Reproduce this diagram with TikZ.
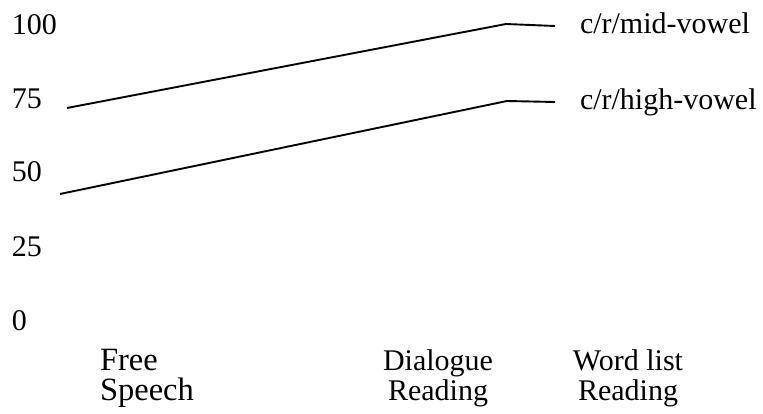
\documentclass[tikz,border=0pt]{standalone}
\usepackage{fontspec}
\setmainfont{Liberation Serif}
\begin{document}
\begin{tikzpicture}[x=1pt,y=-1pt,
  lbl/.style={font=\fontsize{30}{30}\selectfont, inner sep=0pt, outer sep=0pt},
  biglbl/.style={font=\fontsize{32.5}{32.5}\selectfont, inner sep=0pt, outer sep=0pt},
  series/.style={line width=1.9pt, line join=round}]
\useasboundingbox (0,0) rectangle (763,414);
% y axis labels
\node[lbl,anchor=base west] (y100) at (12,35) {100};
\node[lbl,anchor=base west] (y75) at (12,109) {75};
\node[lbl,anchor=base west] (y50) at (12,182) {50};
\node[lbl,anchor=base west] (y25) at (12,257) {25};
\node[lbl,anchor=base west] (y0) at (12,330) {0};
% x axis labels
\node[biglbl,anchor=base west] (free) at (100,370) {Free};
\node[biglbl,anchor=base west] (speech) at (100,400) {Speech};
\node[lbl,anchor=base] (dialogue) at (438,370) {Dialogue};
\node[lbl,anchor=base] (dread) at (438,400) {Reading};
\node[lbl,anchor=base] (wordlist) at (628,370) {Word list};
\node[lbl,anchor=base] (wread) at (628,400) {Reading};
% series
\coordinate (m1) at (67,108);
\coordinate (m2) at (506,24);
\coordinate (m3) at (555,26);
\coordinate (h1) at (60,194);
\coordinate (h2) at (507,101);
\coordinate (h3) at (555,102);
\draw[series] (m1) -- (m2) -- (m3);
\draw[series] (h1) -- (h2) -- (h3);
% legend labels
\node[lbl,anchor=base west] (mid) at (580,34) {c/r/mid-vowel};
\node[lbl,anchor=base west] (high) at (580,110) {c/r/high-vowel};
\end{tikzpicture}
\end{document}
